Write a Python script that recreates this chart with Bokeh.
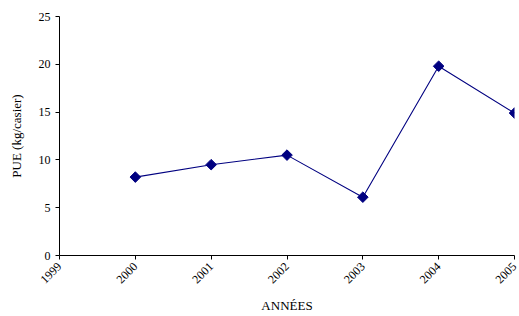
import math
from bokeh.plotting import figure
from bokeh.models import Range1d, FixedTicker
from bokeh.embed import file_html
from bokeh.resources import INLINE

years = [2000, 2001, 2002, 2003, 2004, 2005]
pue = [8.2, 9.5, 10.5, 6.1, 19.8, 14.9]
x_ticks = [1999, 2000, 2001, 2002, 2003, 2004, 2005]
y_ticks = [0, 5, 10, 15, 20, 25]

FONT = "Liberation Serif"

p = figure(width=519, height=316, output_backend="svg", toolbar_location=None,
           x_range=Range1d(1999, 2005), y_range=Range1d(0, 25),
           min_border_left=59, min_border_right=5, min_border_top=16, min_border_bottom=60)
p.outline_line_color = None
p.xgrid.visible = False
p.ygrid.visible = False
p.background_fill_color = "white"
p.border_fill_color = "white"

p.line(years, pue, line_color="#000080", line_width=1.1)
p.scatter(years, pue, marker="square", angle=math.pi / 4, size=7.5,
          fill_color="#000080", line_color="#000080")

for ax in (p.xaxis[0], p.yaxis[0]):
    ax.axis_line_color = "black"
    ax.major_tick_line_color = "black"
    ax.minor_tick_line_color = None
    ax.major_tick_in = 0
    ax.major_tick_out = 4
    ax.major_label_text_font = FONT
    ax.major_label_text_font_size = "12px"
    ax.major_label_text_color = "black"
    ax.axis_label_text_font = FONT
    ax.axis_label_text_font_size = "13px"
    ax.axis_label_text_font_style = "normal"
    ax.axis_label_text_color = "black"

p.xaxis.ticker = FixedTicker(ticks=x_ticks)
p.yaxis.ticker = FixedTicker(ticks=y_ticks)
p.xaxis.major_label_orientation = math.pi / 4
p.xaxis.axis_label = "ANNÉES"
p.yaxis.axis_label = "PUE (kg/casier)"
p.xaxis.axis_label_standoff = 8
p.yaxis.axis_label_standoff = 12

open("out.html", "w").write(file_html(p, INLINE))
